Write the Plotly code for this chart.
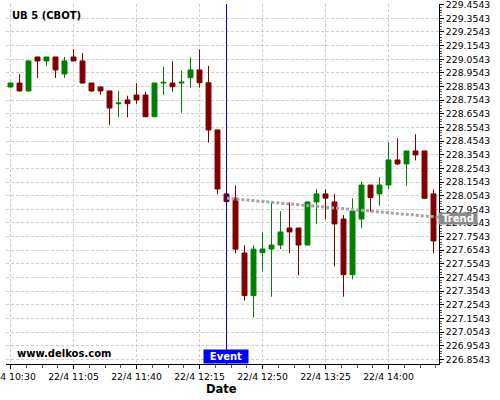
import plotly.graph_objects as go
import pandas as pd

# ---- data ----
start_time = "2021-04-22 10:30"
n_candles = 48
times = pd.date_range(start_time, periods=n_candles, freq="5min")

opens = [228.851, 228.880, 228.822, 229.071, 229.042, 229.071, 228.946, 229.071, 229.042, 228.880,
         228.851, 228.822, 228.728, 228.756, 228.792, 228.792, 228.633, 228.880, 228.880, 228.880,
         228.919, 228.976, 228.882, 228.536, 228.067, 228.036, 227.634, 227.321, 227.636, 227.663,
         227.692, 227.817, 227.817, 227.692, 228.008, 228.067, 228.008, 227.883, 227.475, 227.883,
         228.132, 228.067, 228.132, 228.316, 228.287, 228.382, 228.382, 228.067]
highs = [228.884, 228.946, 229.045, 229.071, 229.071, 229.071, 229.071, 229.129, 229.100, 228.880,
         228.855, 228.822, 228.822, 228.787, 228.878, 228.817, 228.880, 229.000, 229.039, 228.970,
         229.069, 229.127, 229.005, 228.536, 228.067, 228.130, 227.690, 227.690, 227.786, 228.008,
         227.940, 228.006, 227.817, 228.008, 228.101, 228.101, 228.067, 227.912, 228.035, 228.157,
         228.132, 228.189, 228.446, 228.475, 228.382, 228.504, 228.382, 228.101]
lows = [228.846, 228.818, 228.818, 228.917, 229.005, 228.917, 228.917, 229.042, 228.878, 228.815,
        228.792, 228.572, 228.631, 228.629, 228.727, 228.629, 228.629, 228.792, 228.817, 228.662,
        228.846, 228.846, 228.443, 228.064, 228.010, 227.632, 227.284, 227.163, 227.500, 227.313,
        227.662, 227.632, 227.470, 227.690, 227.847, 227.881, 227.535, 227.313, 227.441, 227.815,
        227.937, 227.979, 228.101, 228.279, 228.127, 228.313, 228.030, 227.632]
closes = [228.880, 228.822, 229.042, 229.042, 229.071, 228.976, 229.042, 229.042, 228.880, 228.822,
          228.822, 228.697, 228.733, 228.729, 228.756, 228.633, 228.880, 228.885, 228.853, 228.886,
          228.976, 228.882, 228.536, 228.103, 228.010, 227.662, 227.321, 227.662, 227.663, 227.692,
          227.788, 227.788, 227.692, 228.008, 228.067, 228.036, 227.847, 227.475, 227.942, 228.132,
          228.040, 228.132, 228.316, 228.287, 228.382, 228.353, 228.035, 227.722]

trend_x = ["2021-04-22 12:30", "2021-04-22 14:30"]
trend_y = [228.035, 227.893]

event_time = "2021-04-22 12:30"

y_tick_vals = [round(226.8543 + 0.1 * i, 4) for i in range(27)]
y_tick_text = ["%.4f" % v for v in y_tick_vals]

x_tick_vals = ["2021-04-22 10:30", "2021-04-22 11:05", "2021-04-22 11:40", "2021-04-22 12:15",
               "2021-04-22 12:50", "2021-04-22 13:25", "2021-04-22 14:00"]
x_tick_text = ["22/4 10:30", "22/4 11:05", "22/4 11:40", "22/4 12:15",
               "22/4 12:50", "22/4 13:25", "22/4 14:00"]

x_range = ["2021-04-22 10:27:30", "2021-04-22 14:28:03"]
y_range = [226.8198, 229.4594]

FONT = "DejaVu Sans"

fig = go.Figure()
fig.add_trace(go.Candlestick(
    x=times, open=opens, high=highs, low=lows, close=closes,
    increasing=dict(line=dict(color="#008000", width=1), fillcolor="#008000"),
    decreasing=dict(line=dict(color="#800000", width=1), fillcolor="#800000"),
    whiskerwidth=0, showlegend=False, hoverinfo="skip",
))
fig.add_trace(go.Scatter(
    x=trend_x, y=trend_y, mode="lines",
    line=dict(color="#a4a4a4", width=3, dash="3px,2px"),
    showlegend=False, hoverinfo="skip",
))

fig.add_shape(type="line", xref="x", yref="paper", x0=event_time, x1=event_time,
              y0=0, y1=1, line=dict(color="#0000ff", width=1))

fig.add_annotation(text="<b>UB 5 (CBOT)</b>", xref="paper", yref="paper",
                   x=0.0092, y=0.968, xanchor="left", yanchor="middle", showarrow=False,
                   font=dict(family=FONT, size=10, color="black"))
fig.add_annotation(text="<b>www.delkos.com</b>", xref="paper", yref="paper",
                   x=0.0208, y=0.0286, xanchor="left", yanchor="middle", showarrow=False,
                   font=dict(family=FONT, size=10, color="black"))
fig.add_annotation(text="<b>Date</b>", xref="paper", yref="paper",
                   x=0.4988, y=-0.0708, xanchor="center", yanchor="middle", showarrow=False,
                   font=dict(family=FONT, size=11.5, color="black"))
fig.add_annotation(text="<b>Event</b>", xref="x", yref="paper",
                   x=event_time, y=0.0203, xanchor="center", yanchor="middle", showarrow=False,
                   xshift=-0.5, bgcolor="#0000ff", borderpad=0, width=44, height=13,
                   font=dict(family=FONT, size=10, color="white"))
fig.add_annotation(text="<b>Trend</b>", xref="paper", yref="paper",
                   x=1.0439, y=0.4028, xanchor="center", yanchor="middle", showarrow=False,
                   bgcolor="#8a8a8a", borderpad=0, width=38, height=11,
                   font=dict(family=FONT, size=10, color="white"))

fig.update_layout(
    width=500, height=400,
    margin=dict(l=6, r=61, t=4, b=36, autoexpand=False),
    paper_bgcolor="white", plot_bgcolor="white",
    font=dict(family=FONT, size=9.3, color="black"),
    showlegend=False,
    hovermode=False,
    boxgap=0.22,
)
fig.update_xaxes(
    type="date", range=x_range, rangeslider=dict(visible=False),
    tickmode="array", tickvals=x_tick_vals, ticktext=x_tick_text,
    showline=True, linecolor="black", linewidth=1,
    ticks="outside", ticklen=4, tickcolor="black",
    showgrid=True, gridcolor="#cfcfcf", griddash="3px,2px", gridwidth=1,
    minor=dict(tick0="2021-04-22 10:30", dtick=525000, ticks="outside", ticklen=3,
               tickcolor="#555555", showgrid=False),
    tickfont=dict(family=FONT, size=9.3, color="black"),
    ticklabeloverflow="allow", automargin=False,
    zeroline=False, fixedrange=True,
)
fig.update_yaxes(
    side="right", range=y_range,
    tickmode="array", tickvals=y_tick_vals, ticktext=y_tick_text,
    showline=True, linecolor="black", linewidth=1,
    ticks="outside", ticklen=4, tickcolor="black",
    showgrid=True, gridcolor="#cfcfcf", griddash="3px,2px", gridwidth=1,
    minor=dict(tick0=226.8543, dtick=0.02, ticks="outside", ticklen=2,
               tickcolor="#555555", showgrid=False),
    tickfont=dict(family=FONT, size=9.3, color="black"),
    ticklabeloverflow="allow", automargin=False,
    zeroline=False, fixedrange=True,
)

fig.write_html("out.html", config={"displayModeBar": False},
               post_script="document.body.style.margin='0px';")
